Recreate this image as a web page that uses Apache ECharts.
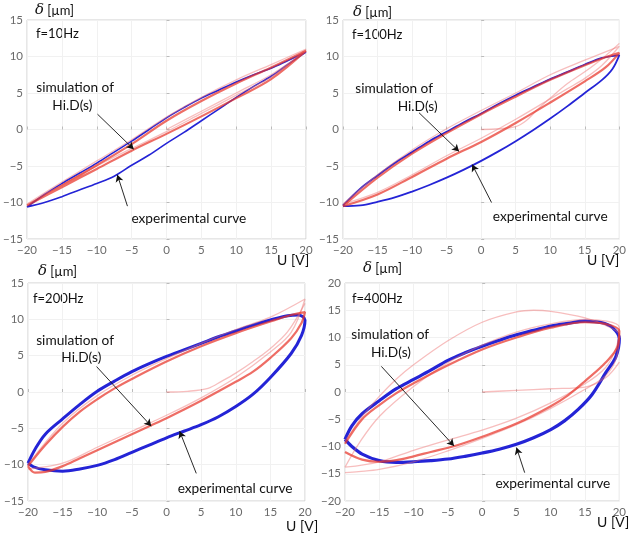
<!DOCTYPE html>
<html><head><meta charset="utf-8">
<script src="https://cdn.jsdelivr.net/npm/echarts@6/dist/echarts.min.js"></script>
<style>html,body{margin:0;padding:0;background:#fff}#c{width:629px;height:538px}</style>
</head><body><div id="c"></div>
<script>
// ---------- data ----------
const xTicks = [-20,-15,-10,-5,0,5,10,15,20];
const panels = ['f=10Hz','f=100Hz','f=200Hz','f=400Hz'];
const yRanges = [[-15,15],[-15,15],[-15,15],[-20,20]];

// f = 10 Hz
const exp10 = [[-20,-10.6],[-17.5,-8.9],[-15,-7.4],[-12.5,-6.0],[-10,-4.6],[-7.5,-3.1],[-5,-1.6],[-2.5,0.0],[0,1.6],[2.5,3.0],[5,4.3],[7.5,5.4],[10,6.5],[12.5,7.5],[15,8.4],[17.5,9.5],[20,10.6],
  [17.5,9.0],[15,7.3],[12.5,5.9],[10,4.4],[7.5,2.8],[5,1.2],[2.5,-0.4],[0,-1.9],[-2.5,-3.5],[-5,-4.9],[-7.5,-6.4],[-10,-7.4],[-12.5,-8.3],[-15,-9.2],[-17.5,-10.0],[-20,-10.6]];
const sim10 = [[-20,-10.4],[-15,-7.7],[-10,-4.9],[-5,-2.0],[0,1.2],[5,3.9],[10,6.3],[15,8.5],[20,10.8],
  [15,6.9],[10,4.3],[5,1.8],[0,-0.6],[-5,-2.9],[-10,-5.4],[-15,-7.9],[-20,-10.4]];
const pink10 = [[-20,-10.2],[-15,-7.2],[-10,-4.3],[-5,-1.4],[0,1.7],[5,4.4],[10,6.8],[15,8.9],[20,11.0],
  [15,7.2],[10,4.7],[5,2.2],[0,-0.3],[-5,-2.6],[-10,-5.0],[-15,-7.6],[-20,-10.2]];
const init10 = [[0,0],[5,2.5],[10,5.0],[15,7.5],[20,10.7]];

// f = 100 Hz
const exp100 = [[-20,-10.4],[-17.5,-8.1],[-15,-6.3],[-12.5,-4.6],[-10,-3.1],[-7.5,-1.6],[-5,-0.3],[-2.5,1.0],[0,2.2],[2.5,3.5],[5,4.7],[7.5,5.8],[10,6.9],[12.5,7.9],[15,8.9],[17.5,9.8],[20,10.2],
  [19,8.3],[17.5,6.8],[15,5.0],[12.5,3.2],[10,1.5],[7.5,-0.1],[5,-1.6],[2.5,-3.0],[0,-4.3],[-2.5,-5.5],[-5,-6.6],[-7.5,-7.6],[-10,-8.5],[-12.5,-9.3],[-15,-9.9],[-17.5,-10.4],[-20,-10.5]];
const sim100 = [[-20,-10.5],[-15,-6.6],[-10,-3.3],[-5,-0.5],[0,2.1],[5,4.5],[10,6.8],[15,8.8],[18,9.9],[20,10.5],
  [18,8.5],[15,6.6],[10,3.7],[5,0.9],[0,-1.7],[-5,-4.0],[-10,-6.5],[-15,-8.9],[-20,-10.5]];
const pink100 = [[-20,-10.2],[-15,-6.2],[-10,-2.8],[-5,0.1],[0,2.6],[5,5.0],[10,7.5],[15,9.5],[20,11.4],
  [17.5,8.8],[15,7.0],[12.5,5.6],[10,4.2],[5,1.4],[0,-1.2],[-5,-3.6],[-10,-6.2],[-15,-8.6],[-20,-10.2]];
const init100 = [[0,0],[2.5,0.1],[5,0.4],[6.5,1.2],[8,2.6],[10,4.3],[12.5,6.3],[15,7.9],[17.5,9.7],[20,11.8]];

// f = 200 Hz
const exp200 = [[-20,-9.8],[-19,-7.9],[-17.5,-5.8],[-15,-3.7],[-12.5,-1.7],[-10,0.1],[-7.5,1.5],[-5,2.8],[-2.5,3.9],[0,4.9],[2.5,5.8],[5,6.7],[7.5,7.6],[10,8.4],[12.5,9.2],[15,9.9],[17.5,10.5],[19,10.6],[20,9.9],
  [19.5,7.8],[18,5.3],[15,2.0],[12.5,-0.3],[10,-2.0],[7.5,-3.4],[5,-4.5],[2.5,-5.4],[0,-6.3],[-2.5,-7.3],[-5,-8.3],[-7.5,-9.3],[-10,-10.1],[-12.5,-10.6],[-15,-10.9],[-17.5,-10.7],[-19.2,-10.3],[-20,-9.8]];
const sim200 = [[-20,-10.2],[-17.5,-7.3],[-15,-4.8],[-12.5,-2.7],[-10,-1.0],[-7.5,0.5],[-5,1.8],[0,4.2],[5,6.3],[10,8.1],[15,9.7],[18,10.6],[20,11.0],
  [19.5,9.5],[18,7.4],[15,4.7],[12.5,2.8],[10,1.4],[5,-1.2],[0,-3.6],[-2.5,-4.7],[-5,-5.8],[-7.5,-6.9],[-10,-8.0],[-12.5,-9.1],[-15,-10.2],[-17.5,-11.0],[-19,-11.1],[-20,-10.2]];
const pink200 = [[-20,-10.0],[-15,-4.3],[-10,-0.5],[-5,2.3],[0,4.6],[5,6.7],[10,8.6],[15,10.3],[20,12.8],
  [18,8.2],[15,5.5],[10,2.0],[5,-0.8],[0,-3.2],[-5,-5.4],[-10,-7.6],[-15,-9.8],[-20,-10.6]];
const init200 = [[0,0],[3,0.1],[6,0.5],[8,1.5],[10,2.6],[12.5,4.2],[15,6.0],[17.5,8.3],[20,12.2]];

// f = 400 Hz
const exp400 = [[-20,-8.7],[-19,-6.2],[-17.5,-4.0],[-15,-1.6],[-12.5,0.6],[-10,2.3],[-7.5,4.0],[-5,5.8],[-2.5,7.2],[0,8.4],[2.5,9.5],[5,10.5],[7.5,11.3],[10,12.1],[12.5,12.6],[15,13.0],[17.5,12.7],[19,11.8],[20,9.8],
  [19.5,6.5],[18,3.5],[16,-0.5],[14,-3.2],[12,-5.3],[10,-6.9],[7.5,-8.4],[5,-9.6],[2.5,-10.5],[0,-11.2],[-2.5,-11.8],[-5,-12.3],[-7.5,-12.6],[-10,-12.8],[-12.5,-12.9],[-15,-12.6],[-17.5,-11.4],[-19,-10.0],[-20,-8.7]];
const sim400 = [[-20,-9.5],[-17.5,-5.0],[-15,-2.4],[-12.5,-0.2],[-10,1.6],[-5,4.9],[0,7.8],[5,10.0],[10,11.8],[15,12.8],[18,12.5],[20,11.2],
  [19.8,8.5],[18,5.4],[15,2.0],[12.5,-0.6],[10,-2.6],[5,-5.8],[0,-8.2],[-4,-9.9],[-7.5,-11.0],[-10,-11.8],[-12.5,-12.5],[-15,-12.8],[-17.5,-12.4],[-20,-11.0]];
const pink400a = [[-20,-9.0],[-17.5,-4.5],[-15,-0.8],[-12.5,2.4],[-10,5.0],[-5,9.4],[0,12.8],[5,14.7],[7.5,15.0],[10,14.8],[15,13.6],[18,12.2],[20,10.4],
  [19.5,6.0],[18,3.0],[15,0.5],[10,-3.0],[5,-6.0],[0,-8.5],[-5,-10.8],[-10,-12.8],[-15,-14.2],[-18,-14.6],[-20,-14.8]];
const pink400b = [[-20,-13.8],[-18,-9.5],[-15,-4.5],[-10,1.0],[-5,5.4],[0,8.6],[5,11.0],[10,12.5],[15,13.3],[20,11.8],
  [19.5,8.0],[18,4.5],[15,1.5],[10,-2.0],[5,-4.8],[0,-7.0],[-5,-8.8],[-10,-10.7],[-15,-12.8],[-20,-13.8]];
const init400 = [[0,0],[5,0.3],[10,0.6],[15,0.9],[18,2.6],[20,5.5]];

const expData = [exp10, exp100, exp200, exp400];
const simData = [sim10, sim100, sim200, sim400];
const pinkData = [[pink10, init10], [pink100, init100], [pink200, init200], [pink400a, pink400b, init400]];

// annotation anchors (data coords): text centres and arrow tail/head
const simText = [[[-13.1,5.8],[-13.5,3.3]],[[-12.6,5.6],[-9.2,3.2]],[[-13.2,7.1],[-12.3,4.8]],[[-13.4,10.5],[-13.3,7.2]]];
const simArrow = [[[-9.9,2.1],[-4.7,-2.7]],[[-9.0,2.3],[-3.2,-3.0]],[[-10.1,3.5],[-2.2,-4.7]],[[-14.7,4.7],[-4.1,-9.9]]];
const expText = [[3.2,-12.2],[10.0,-11.9],[9.9,-13.3],[10.3,-16.8]];
const expArrow = [[[-5.6,-10.5],[-7.05,-6.2]],[[1.5,-10.0],[-1.3,-4.8]],[[4.3,-11.2],[1.9,-5.4]],[[6.2,-14.8],[5.0,-10.2]]];

// ---------- layout ----------
const grids = [
  {left:26, top:20, width:280, height:219},
  {left:343, top:20, width:279, height:219},
  {left:28, top:283, width:277, height:218},
  {left:345, top:283, width:277, height:218}
];
const FONT = 'Lato';
const minus = v => String(v).replace('-', '\u2212');

const chart = echarts.init(document.getElementById('c'), null, {renderer:'canvas'});
const option = {
  animation:false,
  backgroundColor:'#fff',
  textStyle:{fontFamily:FONT},
  grid: grids.map(g => Object.assign({show:true, borderColor:'#cfcfcf', borderWidth:1, containLabel:false}, g)),
  xAxis: grids.map((g,i) => ({
    type:'value', gridIndex:i, min:-20, max:20, interval:5,
    axisLine:{show:false},
    axisTick:{show:true, inside:true, length:3, lineStyle:{color:'#bbb'}},
    splitLine:{show:true, lineStyle:{color:'#f1f1f1', width:1}},
    axisLabel:{color:'#6a6a6a', fontSize:11.5, margin:5, fontFamily:FONT, formatter:minus, showMinLabel:true, showMaxLabel:true}
  })),
  yAxis: grids.map((g,i) => ({
    type:'value', gridIndex:i, min:yRanges[i][0], max:yRanges[i][1], interval:5,
    axisLine:{show:false},
    axisTick:{show:true, inside:true, length:3, lineStyle:{color:'#bbb'}},
    splitLine:{show:true, lineStyle:{color:'#f1f1f1', width:1}},
    axisLabel:{color:'#6a6a6a', fontSize:11.5, margin:4, fontFamily:FONT, formatter:minus, showMinLabel:true, showMaxLabel:true}
  })),
  series: [],
  graphic: []
};

const thick = [1.6, 1.8, 3, 3.2];
grids.forEach((g,i) => {
  option.series.push({
    type:'line', xAxisIndex:i, yAxisIndex:i, data:expData[i], symbol:'none', smooth:0.35, silent:true,
    lineStyle:{color:'#2424d6', width:thick[i]}, z:2
  });
  pinkData[i].forEach(d => option.series.push({
    type:'line', xAxisIndex:i, yAxisIndex:i, data:d, symbol:'none', smooth:0.35, silent:true,
    lineStyle:{color:'rgba(238,110,110,0.45)', width:1.3}, z:3
  }));
  option.series.push({
    type:'line', xAxisIndex:i, yAxisIndex:i, data:simData[i], symbol:'none', smooth:0.35, silent:true,
    lineStyle:{color:'rgba(232,52,42,0.72)', width:2.2}, z:4,
    markLine:{
      silent:true, symbol:['none','arrow'], symbolSize:[6,7], animation:false,
      lineStyle:{color:'#111', width:0.9, type:'solid'}, label:{show:false},
      data:[
        [{coord:simArrow[i][0]},{coord:simArrow[i][1]}],
        [{coord:expArrow[i][0]},{coord:expArrow[i][1]}]
      ]
    },
    markPoint:{
      silent:true, symbol:'circle', symbolSize:0, animation:false,
      label:{show:true, position:'inside', color:'#111', fontSize:13.7, fontFamily:FONT},
      data:[
        {coord:simText[i][0], label:{formatter:'simulation of'}},
        {coord:simText[i][1], label:{formatter:'Hi.D(s)'}},
        {coord:expText[i], label:{formatter:'experimental curve'}}
      ]
    }
  });
});

// axis titles and panel labels
const yTitlePos = [[35,3],[353,5],[38,264],[363,261]];
const fPos = [[36,27],[352,28],[33,292],[352,292]];
const uPos = [[277,253],[587,253],[286,519],[597,515]];
grids.forEach((g,i) => {
  option.graphic.push({type:'text', left:yTitlePos[i][0], top:yTitlePos[i][1], silent:true,
    style:{text:'{d|\u03B4} [\u00B5m]', fill:'#111', font:'13px Lato',
      rich:{d:{fontFamily:'DejaVu Serif', fontStyle:'italic', fontSize:15, fill:'#111'}}}});
  option.graphic.push({type:'text', left:fPos[i][0], top:fPos[i][1], silent:true,
    style:{text:panels[i], fill:'#111', font:'13px Lato'}});
  option.graphic.push({type:'text', left:uPos[i][0], top:uPos[i][1], silent:true,
    style:{text:'U [V]', fill:'#111', font:'14px Lato'}});
});

chart.setOption(option);
</script>
</body></html>
